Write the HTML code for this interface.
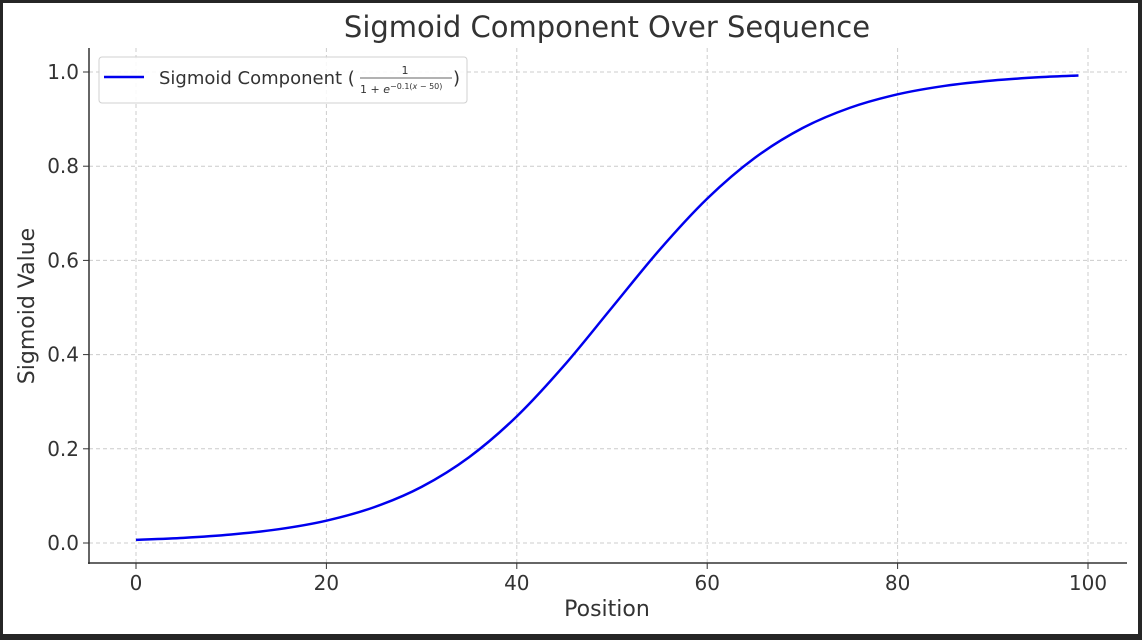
<!DOCTYPE html>
<html><head><meta charset="utf-8"><style>
body{margin:0;background:#222;}
svg{display:block;font-family:"DejaVu Sans","Liberation Sans",sans-serif;}
</style></head><body>
<svg width="1142" height="640">
<rect x="0" y="0" width="1142" height="640" fill="#262626"/>
<rect x="3" y="3" width="1135" height="631" fill="#fff"/>
<g id="grid"></g>
<g id="axes"></g>
<path id="curve" fill="none" stroke="#0000ee" stroke-width="2.5"/>
<text x="607" y="37" text-anchor="middle" font-size="29" fill="#333">Sigmoid Component Over Sequence</text>
<text x="607" y="616" text-anchor="middle" font-size="22" fill="#333">Position</text>
<text transform="translate(34,306) rotate(-90)" text-anchor="middle" font-size="22" fill="#333">Sigmoid Value</text>
<g>
<rect x="99" y="57" width="368" height="46" rx="3" fill="#fff" fill-opacity="0.85" stroke="#d0d0d0"/>
<line x1="104" y1="77" x2="144" y2="77" stroke="#0000ee" stroke-width="2.5"/>
<text x="159" y="84" font-size="18" fill="#333">Sigmoid Component (</text>
<text x="405" y="74" text-anchor="middle" font-size="11" fill="#333">1</text>
<line x1="360" y1="78" x2="452" y2="78" stroke="#333" stroke-width="0.8"/>
<text x="360" y="93" font-size="11" fill="#333">1 + <tspan font-style="italic">e</tspan><tspan font-size="8" dy="-4">−0.1(<tspan font-style="italic">x</tspan> − 50)</tspan></text>
<text x="453" y="84" font-size="18" fill="#333">)</text>
</g>
</svg>
<script>
const xs=[0,5,10,15,20,25,30,35,40,45,50,55,60,65,70,75,80,85,90,95,99];
const ys=[0.0067,0.0110,0.0180,0.0293,0.0474,0.0759,0.1192,0.1824,0.2689,0.3775,0.5,0.6225,0.7311,0.8176,0.8808,0.9241,0.9526,0.9707,0.9820,0.9890,0.9926];
const xTicks=[0,20,40,60,80,100];
const yTicks=[0.0,0.2,0.4,0.6,0.8,1.0];
const X=v=>136+v*(1088-136)/100;
const Y=v=>543-v*(543-72);
const ns="http://www.w3.org/2000/svg";
const grid=document.getElementById('grid'),axes=document.getElementById('axes');
function mk(tag,attrs,parent){const e=document.createElementNS(ns,tag);for(const k in attrs)e.setAttribute(k,attrs[k]);parent.appendChild(e);return e;}
xTicks.forEach(t=>{
 const g=mk('line',{x1:X(t),x2:X(t),y1:48,y2:563,stroke:'#ccc','stroke-dasharray':'4,3'},grid);
 
 
 const k=mk('line',{x1:X(t),x2:X(t),y1:563,y2:569,stroke:'#333'},axes);
 
 
 const l=mk('text',{x:X(t),y:590,'text-anchor':'middle','font-size':20,fill:'#333'},axes);
 l.textContent=t;
 
 
});
yTicks.forEach(t=>{
 const g=mk('line',{x1:89,x2:1127,y1:Y(t),y2:Y(t),stroke:'#ccc','stroke-dasharray':'4,3'},grid);
 
 
 const k=mk('line',{x1:83,x2:89,y1:Y(t),y2:Y(t),stroke:'#333'},axes);
 
 
 const l=mk('text',{x:79,y:Y(t)+7,'text-anchor':'end','font-size':20,fill:'#333'},axes);
 l.textContent=t.toFixed(1);
 
 
});
const sp1=mk('line',{x1:89,x2:89,y1:48,y2:564,stroke:'#333','stroke-width':1.5},axes);


const sp2=mk('line',{x1:88,x2:1127,y1:563,y2:563,stroke:'#333','stroke-width':1.5},axes);


const P=xs.map((x,i)=>[X(x),Y(ys[i])]);
let d='M'+P[0][0]+','+P[0][1];
for(let i=0;i<P.length-1;i++){
 const p0=P[Math.max(0,i-1)],p1=P[i],p2=P[i+1],p3=P[Math.min(P.length-1,i+2)];
 const c1=[p1[0]+(p2[0]-p0[0])/6,p1[1]+(p2[1]-p0[1])/6];
 const c2=[p2[0]-(p3[0]-p1[0])/6,p2[1]-(p3[1]-p1[1])/6];
 d+=' C'+c1+' '+c2+' '+p2;
}
document.getElementById('curve').setAttribute('d',d);
</script>
</body></html>
